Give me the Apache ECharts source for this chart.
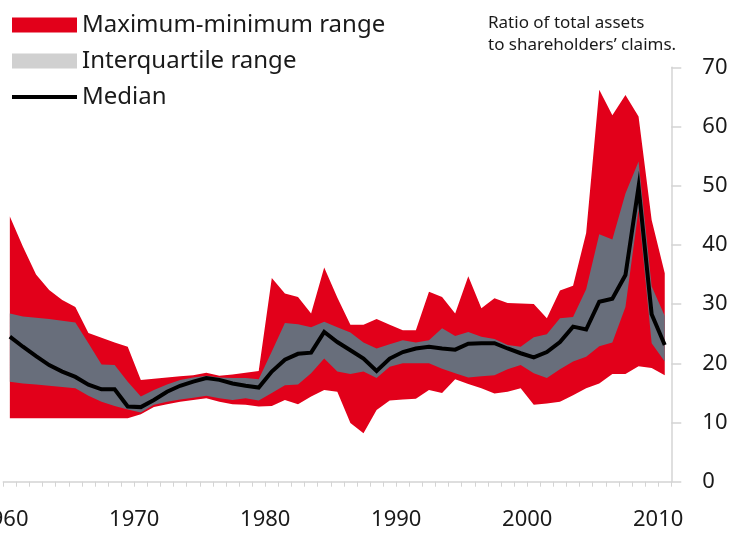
<!DOCTYPE html>
<html>
<head>
<meta charset="utf-8">
<script src="https://cdn.jsdelivr.net/npm/echarts@6/dist/echarts.min.js"></script>
<style>
  html, body { margin: 0; padding: 0; background: #fff; }
  #chart { width: 734px; height: 535px; }
</style>
</head>
<body>
<div id="chart"></div>
<script>
// Years: one value per year, drawn in the middle of the year's band
const years = [];
for (let y = 1960; y <= 2010; y++) years.push(String(y));

const maxV = [44.8, 39.7, 35.0, 32.4, 30.7, 29.5, 25.1, 24.3, 23.5, 22.8,
              17.2, 17.4, 17.6, 17.8, 18.0, 18.4, 17.9, 18.1, 18.4, 18.7,
              34.4, 31.8, 31.2, 28.4, 36.2, 31.1, 26.5, 26.5, 27.5, 26.5,
              25.6, 25.6, 32.1, 31.2, 28.4, 34.7, 29.3, 31.0, 30.2, 30.1,
              30.0, 27.6, 32.3, 33.1, 42.0, 66.2, 61.9, 65.3, 61.7, 44.2, 35.2];
const q3V  = [28.4, 27.9, 27.7, 27.5, 27.2, 26.9, 23.4, 19.8, 19.7, 16.9,
              14.4, 15.5, 16.4, 17.2, 17.6, 17.9, 17.6, 17.5, 17.5, 17.3,
              22.0, 26.8, 26.6, 26.1, 27.0, 26.1, 25.2, 23.5, 22.5, 23.2,
              23.9, 23.5, 23.9, 25.9, 24.6, 25.3, 24.5, 24.1, 23.1, 22.8,
              24.4, 24.9, 27.6, 27.8, 32.5, 41.8, 40.9, 48.7, 54.1, 33.0, 28.0];
const medV = [24.5, 22.8, 21.2, 19.7, 18.6, 17.7, 16.4, 15.6, 15.6, 12.7,
              12.6, 13.8, 15.2, 16.2, 16.9, 17.5, 17.2, 16.6, 16.2, 15.9,
              18.6, 20.6, 21.6, 21.8, 25.3, 23.6, 22.2, 20.8, 18.7, 20.8,
              21.9, 22.5, 22.8, 22.5, 22.3, 23.3, 23.4, 23.4, 22.5, 21.7,
              21.0, 21.9, 23.6, 26.2, 25.7, 30.4, 30.9, 34.9, 49.8, 28.3, 23.1];
const q1V  = [16.9, 16.6, 16.4, 16.2, 16.0, 15.8, 14.5, 13.5, 12.8, 12.2,
              11.7, 13.0, 13.5, 13.9, 14.2, 14.5, 14.1, 13.8, 14.1, 13.7,
              15.0, 16.3, 16.4, 18.3, 20.8, 18.6, 18.2, 18.6, 17.5, 19.4,
              20.0, 20.0, 20.0, 19.1, 18.3, 17.6, 17.8, 18.0, 19.0, 19.7,
              18.3, 17.5, 19.0, 20.3, 21.1, 22.9, 23.5, 29.5, 46.0, 23.4, 20.3];
const minV = [10.7, 10.7, 10.7, 10.7, 10.7, 10.7, 10.7, 10.7, 10.7, 10.7,
              11.4, 12.6, 13.1, 13.5, 13.8, 14.1, 13.5, 13.1, 13.0, 12.7,
              12.8, 13.8, 13.1, 14.4, 15.5, 15.2, 9.9, 8.2, 12.1, 13.7,
              13.9, 14.0, 15.5, 15.0, 17.3, 16.5, 15.8, 14.9, 15.2, 15.8,
              13.0, 13.2, 13.5, 14.6, 15.8, 16.6, 18.2, 18.2, 19.5, 19.2, 18.0];

const legendNames = ['Maximum-minimum range', 'Interquartile range', 'Median'];
const titleLines = ['Ratio of total assets', 'to shareholders\u2019 claims.'];

const RED = '#e2001a';
const BAND = '#686e7b';
const AXIS = '#d4d4d4';
const FONT = 'Noto Sans';

const diff = (a, b) => a.map((v, i) => +(v - b[i]).toFixed(2));

const hiddenLine = { width: 0, opacity: 0 };

const chart = echarts.init(document.getElementById('chart'), null, { renderer: 'canvas' });

chart.setOption({
  animation: false,
  backgroundColor: '#fff',
  textStyle: { fontFamily: FONT },
  title: {
    text: titleLines.join('\n'),
    left: 488,
    top: 12,
    padding: 0,
    textStyle: { fontFamily: FONT, fontSize: 17, fontWeight: 'normal', color: '#1a1a1a', lineHeight: 22 }
  },
  legend: {
    orient: 'vertical',
    left: 10,
    top: 11,
    padding: 0,
    itemWidth: 65,
    itemHeight: 15,
    itemGap: 8,
    selectedMode: false,
    textStyle: { fontFamily: FONT, fontSize: 24, color: '#1a1a1a', lineHeight: 28 },
    data: [
      { name: legendNames[0], icon: 'rect', itemStyle: { color: RED } },
      { name: legendNames[1], icon: 'rect', itemStyle: { color: '#d0d0d0' } },
      { name: legendNames[2], itemStyle: { opacity: 0 }, lineStyle: { color: '#000', width: 4 } }
    ]
  },
  grid: { left: 3.3, right: 62.7, top: 67.3, bottom: 53.3, containLabel: false, outerBoundsMode: 'none' },
  xAxis: [
    {
      type: 'category',
      data: years,
      boundaryGap: true,
      position: 'bottom',
      z: 10,
      splitLine: { show: false },
      axisLine: { show: true, onZero: false, lineStyle: { color: AXIS, width: 1.5 } },
      axisTick: { show: true, interval: 0, length: 5, lineStyle: { color: AXIS, width: 1 } },
      axisLabel: { show: false }
    },
    {
      type: 'value',
      min: 1960,
      max: 2011,
      interval: 10,
      position: 'bottom',
      offset: 0,
      splitLine: { show: false },
      axisLine: { show: false, onZero: false },
      axisTick: { show: false },
      axisLabel: {
        margin: 27,
        fontFamily: FONT,
        fontSize: 22,
        color: '#1a1a1a',
        showMinLabel: true,
        showMaxLabel: true,
        formatter: v => (v % 10 === 0 ? String(v) : '')
      }
    }
  ],
  yAxis: [
    {
      type: 'value',
      position: 'right',
      min: 0,
      max: 70,
      interval: 10,
      z: 10,
      splitLine: { show: false },
      axisLine: { show: true, lineStyle: { color: AXIS, width: 1.5 } },
      axisTick: { show: true, length: 10, lineStyle: { color: AXIS, width: 1.5 } },
      axisLabel: { show: false }
    },
    {
      type: 'value',
      position: 'right',
      offset: 27,
      min: 0,
      max: 70,
      interval: 10,
      splitLine: { show: false },
      axisLine: { show: false },
      axisTick: { show: false },
      axisLabel: { margin: 4, fontFamily: FONT, fontSize: 22, color: '#1a1a1a' }
    }
  ],
  series: [
    {
      name: 'Minimum', type: 'line', stack: 'range', data: minV,
      symbol: 'none', showSymbol: false, silent: true, lineStyle: hiddenLine
    },
    {
      name: legendNames[0], type: 'line', stack: 'range', data: diff(maxV, minV),
      symbol: 'none', showSymbol: false, silent: true, lineStyle: hiddenLine,
      itemStyle: { color: RED },
      areaStyle: { color: RED, opacity: 1 }
    },
    {
      name: 'Lower quartile', type: 'line', stack: 'iqr', data: q1V,
      symbol: 'none', showSymbol: false, silent: true, lineStyle: hiddenLine
    },
    {
      name: legendNames[1], type: 'line', stack: 'iqr', data: diff(q3V, q1V),
      symbol: 'none', showSymbol: false, silent: true, lineStyle: hiddenLine,
      itemStyle: { color: BAND },
      areaStyle: { color: BAND, opacity: 1 }
    },
    {
      name: legendNames[2], type: 'line', data: medV,
      symbol: 'none', showSymbol: false,
      itemStyle: { color: '#000' },
      lineStyle: { color: '#000', width: 4, join: 'miter' },
      z: 3
    }
  ]
});
</script>
</body>
</html>
